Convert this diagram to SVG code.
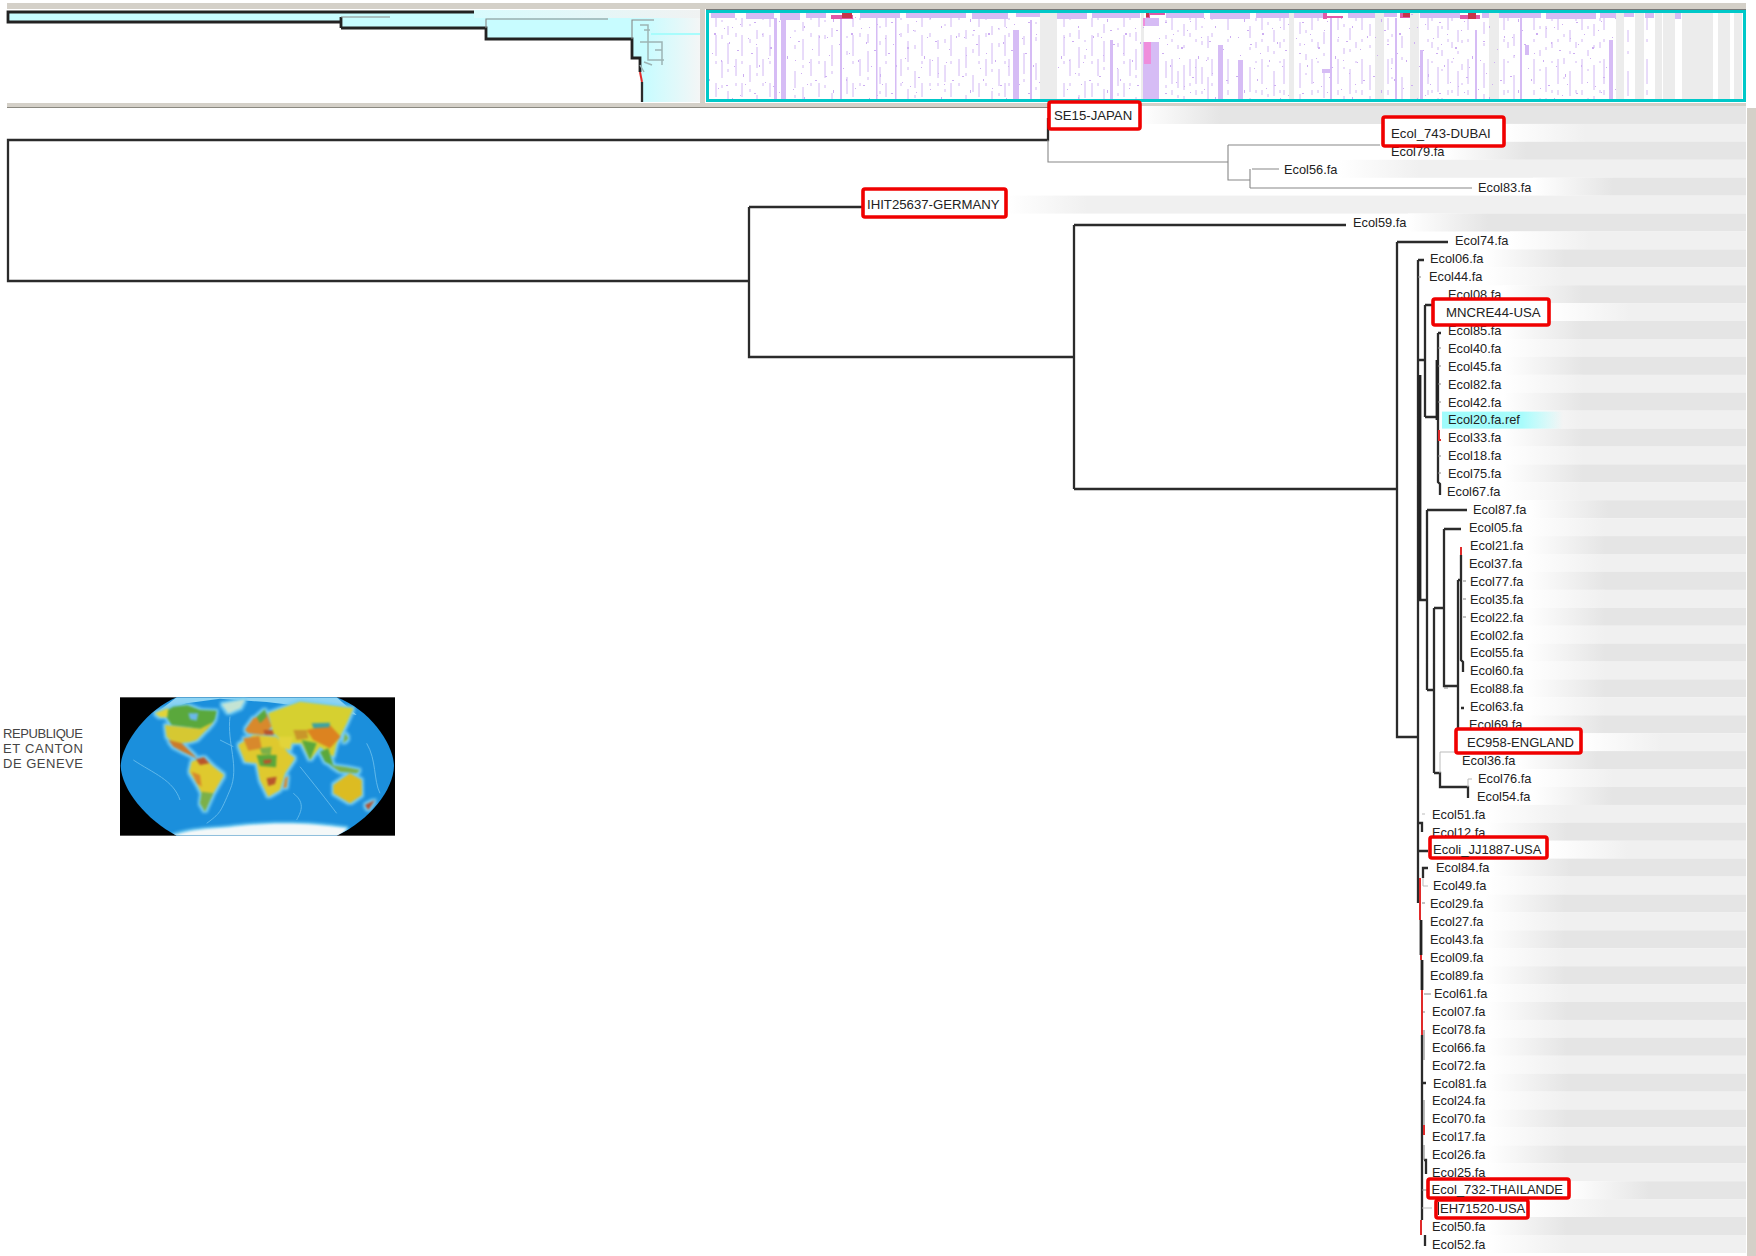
<svg xmlns="http://www.w3.org/2000/svg" width="1756" height="1256" viewBox="0 0 1756 1256">
<style>
text{font-family:"Liberation Sans",Arial,sans-serif;fill:#222;transform:translateY(.4px)}
.l{font-size:12.8px}
.b{font-size:13.2px}
.b2{font-size:13px}
.g{font-size:13px;fill:#444}
.box{fill:#fff;stroke:#f00000;stroke-width:3.6}
.e{fill:#e5e5e5}.f{fill:#f0f0f0}
.ge{fill:url(#ge)}.gf{fill:url(#gf)}
.k{fill:none;stroke:#2b2b2b;stroke-width:2.3}
.k3{fill:none;stroke:#222;stroke-width:2.8}
.t{fill:none;stroke:#888;stroke-width:1.1}
.p{fill:none;stroke:#bbb;stroke-width:1}
.r{fill:none;stroke:#e02a2a;stroke-width:2}
.h{fill:none;stroke:#d2b8f4;stroke-width:1}
.c{fill:#ececec}
.m{fill:#d6bcf5}
.n{fill:#e05aa8}
.land path{stroke-linejoin:round}
</style>
<defs>
<linearGradient id="ge"><stop offset="0" stop-color="#fff"/><stop offset="1" stop-color="#e5e5e5"/></linearGradient>
<linearGradient id="gf"><stop offset="0" stop-color="#fff"/><stop offset="1" stop-color="#f0f0f0"/></linearGradient>
<linearGradient id="gc"><stop offset="0" stop-color="#9ffcfc"/><stop offset=".66" stop-color="#a8fcfc"/><stop offset="1" stop-color="#a8fcfc" stop-opacity="0"/></linearGradient>
<linearGradient id="ov" gradientUnits="userSpaceOnUse" x1="8" y1="0" x2="700" y2="0"><stop offset="0" stop-color="#c8fcff"/><stop offset=".92" stop-color="#c8fcff"/><stop offset="1" stop-color="#f4f6f6"/></linearGradient>
<linearGradient id="ov2" gradientUnits="userSpaceOnUse" x1="474" y1="0" x2="700" y2="0"><stop offset="0" stop-color="#d8fbfd"/><stop offset="1" stop-color="#f0f2f2"/></linearGradient>
<pattern id="sp" patternUnits="userSpaceOnUse" width="137" height="71">
<path fill="#cdaef2" d="M3 5h2v1h-2zM11 19h1v3h-1zM17 44h2v1h-2zM24 8h1v2h-1zM29 33h2v2h-2zM36 60h1v2h-1zM41 14h2v1h-2zM47 27h1v1h-1zM52 50h2v1h-2zM58 3h1v3h-1zM63 38h1v1h-1zM69 22h2v1h-2zM74 65h1v2h-1zM80 11h1v1h-1zM85 47h2v2h-2zM91 30h1v1h-1zM96 6h2v1h-2zM102 56h1v3h-1zM108 18h1v1h-1zM113 41h2v1h-2zM119 26h1v2h-1zM124 62h1v1h-1zM130 9h2v1h-2zM134 36h1v2h-1zM7 55h1v1h-1zM14 30h2v1h-2zM21 68h1v1h-1zM33 17h1v1h-1zM44 42h1v2h-1zM55 24h1v1h-1zM66 53h2v1h-2zM77 34h1v1h-1zM88 15h1v1h-1zM99 67h1v1h-1zM105 37h1v1h-1zM116 2h1v1h-1zM127 49h1v1h-1zM5 37h1v1h-1zM27 53h1v1h-1zM49 66h1v1h-1zM71 44h1v1h-1zM94 21h1v1h-1zM110 60h1v1h-1zM122 13h1v1h-1zM39 28h1v1h-1zM60 13h1v1h-1zM83 58h1v1h-1z"/>
</pattern>
<filter id="bl" x="-5%" y="-5%" width="110%" height="110%" color-interpolation-filters="sRGB">
<feMorphology in="SourceAlpha" operator="dilate" radius="7" result="d"/>
<feGaussianBlur in="d" stdDeviation="5" result="db"/>
<feFlood flood-color="#74ccf2"/><feComposite in2="db" operator="in" result="halo"/>
<feGaussianBlur in="SourceGraphic" stdDeviation="2.6" result="s"/>
<feMerge><feMergeNode in="halo"/><feMergeNode in="s"/></feMerge>
</filter>
<filter id="b2"><feGaussianBlur stdDeviation="1.6"/></filter>
<clipPath id="mc"><path d="M530 52H1010C1110 90 1180 190 1182 258C1180 330 1110 420 1010 467H530C440 420 365 330 362 258C365 190 440 90 530 52Z"/></clipPath>
</defs>
<rect width="1756" height="1256" fill="#fff"/>

<g id="overview">
<rect x="7" y="3" width="1739" height="6" fill="#d4d0c8"/>
<rect x="7" y="103" width="1739" height="5" fill="#d4d0c8"/>
<rect x="7" y="107" width="1739" height="1" fill="#8a8880"/>
<rect x="700" y="9" width="5" height="94" fill="#d4d0c8"/>
<path fill="url(#ov2)" d="M474 10H700V20H474Z"/>
<path fill="url(#ov)" d="M8 12H474V18H700V102H642L640 72V58H632V39H486V28H341V22H8Z"/>
<path class="k3" d="M474 12H8V22H341M341 28H486V39H632V58H640V72M341 17V28"/>
<path class="t" stroke-width="1.5" d="M341 17H390M486 28V19H608M632 39V20H654"/>
<path class="r" d="M640 72L642 82"/>
<path class="k" d="M642 82V102"/>
<path fill="none" stroke="#9db4b4" stroke-width="1.5" d="M640 25H648V45M644 30H650M640 42H662V65M648 42V60H664M655 50H662M644 62L652 65M640 65L644 72"/>
<path fill="none" stroke="#a8fcfc" stroke-width="2" d="M651 34H700"/>
</g>

<g id="heatmap">
<rect x="707" y="11" width="1037" height="89" fill="#fff"/>
<rect x="1040" y="13" width="17" height="87" class="c"/><rect x="1141" y="13" width="3" height="87" class="c"/><rect x="1289" y="13" width="5" height="87" class="c"/><rect x="1375" y="13" width="9" height="87" class="c"/><rect x="1410" y="13" width="9" height="87" class="c"/><rect x="1489" y="13" width="10" height="87" class="c"/><rect x="1616" y="13" width="8" height="87" class="c"/><rect x="1635" y="13" width="9" height="87" class="c"/><rect x="1655" y="13" width="7" height="87" class="c"/><rect x="1663" y="13" width="12" height="87" class="c"/><rect x="1682" y="13" width="31" height="87" class="c"/><rect x="1718" y="13" width="12" height="87" class="c"/><rect x="1734" y="13" width="8" height="87" class="c"/>
<rect x="709" y="14" width="331" height="86" fill="url(#sp)"/><rect x="1057" y="14" width="232" height="86" fill="url(#sp)"/><rect x="1294" y="14" width="322" height="86" fill="url(#sp)"/>
<path class="m" d="M774 18h3v82h-3zM781 18h5v82h-5zM840 18h2v82h-2zM876 18h1.5v82h-1.5zM895 18h1.5v82h-1.5zM1013 30h6v70h-6zM1030 20h2v80h-2zM1110 40h3v60h-3zM1218 45h5v55h-5zM1238 60h5v40h-5zM1330 18h2v82h-2zM1395 18h2v82h-2zM1420 50h3v50h-3zM1475 30h2v70h-2zM1520 18h2v82h-2zM1609 40h4v60h-4zM1525 45h4v10h-4zM1322 69h8v4h-8z"/>
<path class="h" stroke-dasharray="9 8 21 5 3 19 14 11" d="M716 18V100M728 26V100M742 18V100M757 30V100M770 18V100M803 22V100M819 18V100M832 28V100M853 18V100M868 34V100M886 18V100M908 24V100M922 18V100M938 40V100M951 18V100M966 30V100M979 18V100M992 26V100M1005 18V100M1024 36V100M1064 18V100M1079 30V100M1092 18V100M1104 24V100M1124 18V100M1136 32V100"/>
<path class="h" stroke-dasharray="2 13 4 22 17 7 3 16" d="M722 20V100M736 18V100M750 24V100M763 18V100M795 30V100M811 18V100M825 20V100M847 36V100M860 18V100M880 26V100M901 18V100M915 30V100M930 18V100M945 24V100M959 18V100M973 34V100M986 18V100M999 28V100M1009 18V100M1036 22V100M1070 18V100M1085 40V100M1098 18V100M1118 28V100M1130 18V100M1166 20V100M1178 30V100M1190 18V100M1202 26V100M1212 18V100"/>
<path class="h" stroke-dasharray="12 9 3 17 25 6 5 14" d="M1172 18V100M1184 24V100M1196 18V100M1208 36V100M1228 18V100M1250 26V100M1262 18V100M1274 30V100M1284 18V100M1300 22V100M1312 18V100M1324 32V100M1338 18V100M1350 28V100M1362 18V100M1370 24V100M1388 18V100M1402 36V100M1428 18V100M1438 26V100M1448 18V100M1458 30V100M1468 18V100M1484 22V100M1504 18V100M1514 34V100M1534 18V100M1546 26V100M1558 18V100M1570 30V100M1582 18V100M1594 24V100M1604 18V100M1628 30V100M1647 18V100"/>
<path class="h" stroke-dasharray="3 21 6 13 2 27" d="M1256 18V100M1268 22V100M1280 18V100M1306 30V100M1318 18V100M1344 24V100M1356 18V100M1392 34V100M1432 18V100M1442 26V100M1452 18V100M1462 40V100M1508 18V100M1540 26V100M1552 18V100M1564 34V100M1576 18V100M1588 26V100M1600 18V100"/>
<path class="m" d="M711 13h24v5h-24zM746 13h28v6h-28zM780 13h20v7h-20zM806 13h20v5h-20zM860 13h40v5h-40zM906 13h60v5h-60zM972 13h36v6h-36zM1016 13h24v4h-24zM1057 13h30v6h-30zM1092 13h48v5h-48zM1166 13h38v5h-38zM1210 13h40v6h-40zM1256 13h33v5h-33zM1294 13h30v5h-30zM1348 13h27v5h-27zM1384 13h13v4h-13zM1420 13h40v5h-40zM1482 13h7v5h-7zM1499 13h42v5h-42zM1546 13h50v6h-50zM1600 13h16v5h-16zM1624 13h10v4h-10zM1645 13h9v5h-9zM1675 13h6v6h-6z"/>
<path class="m" d="M1143 18h16v8h-16zM1143 42h16v58h-16z"/>
<path d="M1144 42h7v22h-7z" fill="#ef8edc"/><path d="M1143 18h2v8h-2z" fill="#ef8edc"/>
<path class="n" d="M831 15h22v4h-22zM1146 13h4v5h-4zM1150 13h15v2h-15zM1323 13h4v6h-4zM1327 16h16v2h-16zM1400 13h10v5h-10zM1460 15h20v4h-20z"/>
<path fill="#c8344a" d="M842 13h10v5h-10zM1146 13h3v4h-3zM1403 13h7v4h-7zM1468 13h8v6h-8z"/>
<rect x="706" y="9" width="1040" height="1.4" fill="#777"/>
<rect x="707.5" y="11.5" width="1037" height="89" fill="none" stroke="#00c8c8" stroke-width="3"/>
</g>

<rect id="side" x="1747" y="108" width="9" height="1148" fill="#d4d0c8"/>

<g id="rows">
<rect x="1140" y="106" width="80" height="18" class="ge"/><rect x="1220" y="106" width="526" height="18" class="e"/>
<rect x="1505" y="123.9" width="80" height="18" class="gf"/><rect x="1585" y="123.9" width="161" height="18" class="f"/>
<rect x="1446" y="141.8" width="80" height="18" class="ge"/><rect x="1526" y="141.8" width="220" height="18" class="e"/>
<rect x="1339" y="159.8" width="80" height="18" class="gf"/><rect x="1419" y="159.8" width="327" height="18" class="f"/>
<rect x="1533" y="177.7" width="80" height="18" class="ge"/><rect x="1613" y="177.7" width="133" height="18" class="e"/>
<rect x="1007" y="195.6" width="80" height="18" class="gf"/><rect x="1087" y="195.6" width="659" height="18" class="f"/>
<rect x="1408" y="213.5" width="80" height="18" class="ge"/><rect x="1488" y="213.5" width="258" height="18" class="e"/>
<rect x="1510" y="231.4" width="80" height="18" class="gf"/><rect x="1590" y="231.4" width="156" height="18" class="f"/>
<rect x="1485" y="249.4" width="80" height="18" class="ge"/><rect x="1565" y="249.4" width="181" height="18" class="e"/>
<rect x="1484" y="267.3" width="80" height="18" class="gf"/><rect x="1564" y="267.3" width="182" height="18" class="f"/>
<rect x="1503" y="285.2" width="80" height="18" class="ge"/><rect x="1583" y="285.2" width="163" height="18" class="e"/>
<rect x="1550" y="303.1" width="80" height="18" class="gf"/><rect x="1630" y="303.1" width="116" height="18" class="f"/>
<rect x="1503" y="321" width="80" height="18" class="ge"/><rect x="1583" y="321" width="163" height="18" class="e"/>
<rect x="1503" y="339" width="80" height="18" class="gf"/><rect x="1583" y="339" width="163" height="18" class="f"/>
<rect x="1503" y="356.9" width="80" height="18" class="ge"/><rect x="1583" y="356.9" width="163" height="18" class="e"/>
<rect x="1503" y="374.8" width="80" height="18" class="gf"/><rect x="1583" y="374.8" width="163" height="18" class="f"/>
<rect x="1503" y="392.7" width="80" height="18" class="ge"/><rect x="1583" y="392.7" width="163" height="18" class="e"/>
<rect x="1503" y="410.6" width="80" height="18" class="gf"/><rect x="1583" y="410.6" width="163" height="18" class="f"/>
<rect x="1503" y="428.6" width="80" height="18" class="ge"/><rect x="1583" y="428.6" width="163" height="18" class="e"/>
<rect x="1503" y="446.5" width="80" height="18" class="gf"/><rect x="1583" y="446.5" width="163" height="18" class="f"/>
<rect x="1503" y="464.4" width="80" height="18" class="ge"/><rect x="1583" y="464.4" width="163" height="18" class="e"/>
<rect x="1502" y="482.3" width="80" height="18" class="gf"/><rect x="1582" y="482.3" width="164" height="18" class="f"/>
<rect x="1528" y="500.2" width="80" height="18" class="ge"/><rect x="1608" y="500.2" width="138" height="18" class="e"/>
<rect x="1524" y="518.2" width="80" height="18" class="gf"/><rect x="1604" y="518.2" width="142" height="18" class="f"/>
<rect x="1525" y="536.1" width="80" height="18" class="ge"/><rect x="1605" y="536.1" width="141" height="18" class="e"/>
<rect x="1524" y="554" width="80" height="18" class="gf"/><rect x="1604" y="554" width="142" height="18" class="f"/>
<rect x="1525" y="571.9" width="80" height="18" class="ge"/><rect x="1605" y="571.9" width="141" height="18" class="e"/>
<rect x="1525" y="589.8" width="80" height="18" class="gf"/><rect x="1605" y="589.8" width="141" height="18" class="f"/>
<rect x="1525" y="607.8" width="80" height="18" class="ge"/><rect x="1605" y="607.8" width="141" height="18" class="e"/>
<rect x="1525" y="625.7" width="80" height="18" class="gf"/><rect x="1605" y="625.7" width="141" height="18" class="f"/>
<rect x="1525" y="643.6" width="80" height="18" class="ge"/><rect x="1605" y="643.6" width="141" height="18" class="e"/>
<rect x="1525" y="661.5" width="80" height="18" class="gf"/><rect x="1605" y="661.5" width="141" height="18" class="f"/>
<rect x="1525" y="679.4" width="80" height="18" class="ge"/><rect x="1605" y="679.4" width="141" height="18" class="e"/>
<rect x="1525" y="697.4" width="80" height="18" class="gf"/><rect x="1605" y="697.4" width="141" height="18" class="f"/>
<rect x="1524" y="715.3" width="80" height="18" class="ge"/><rect x="1604" y="715.3" width="142" height="18" class="e"/>
<rect x="1582" y="733.2" width="80" height="18" class="gf"/><rect x="1662" y="733.2" width="84" height="18" class="f"/>
<rect x="1517" y="751.1" width="80" height="18" class="ge"/><rect x="1597" y="751.1" width="149" height="18" class="e"/>
<rect x="1533" y="769" width="80" height="18" class="gf"/><rect x="1613" y="769" width="133" height="18" class="f"/>
<rect x="1532" y="787" width="80" height="18" class="ge"/><rect x="1612" y="787" width="134" height="18" class="e"/>
<rect x="1487" y="804.9" width="80" height="18" class="gf"/><rect x="1567" y="804.9" width="179" height="18" class="f"/>
<rect x="1487" y="822.8" width="80" height="18" class="ge"/><rect x="1567" y="822.8" width="179" height="18" class="e"/>
<rect x="1548" y="840.7" width="80" height="18" class="gf"/><rect x="1628" y="840.7" width="118" height="18" class="f"/>
<rect x="1491" y="858.6" width="80" height="18" class="ge"/><rect x="1571" y="858.6" width="175" height="18" class="e"/>
<rect x="1488" y="876.6" width="80" height="18" class="gf"/><rect x="1568" y="876.6" width="178" height="18" class="f"/>
<rect x="1485" y="894.5" width="80" height="18" class="ge"/><rect x="1565" y="894.5" width="181" height="18" class="e"/>
<rect x="1485" y="912.4" width="80" height="18" class="gf"/><rect x="1565" y="912.4" width="181" height="18" class="f"/>
<rect x="1485" y="930.3" width="80" height="18" class="ge"/><rect x="1565" y="930.3" width="181" height="18" class="e"/>
<rect x="1485" y="948.2" width="80" height="18" class="gf"/><rect x="1565" y="948.2" width="181" height="18" class="f"/>
<rect x="1485" y="966.2" width="80" height="18" class="ge"/><rect x="1565" y="966.2" width="181" height="18" class="e"/>
<rect x="1489" y="984.1" width="80" height="18" class="gf"/><rect x="1569" y="984.1" width="177" height="18" class="f"/>
<rect x="1487" y="1002" width="80" height="18" class="ge"/><rect x="1567" y="1002" width="179" height="18" class="e"/>
<rect x="1487" y="1019.9" width="80" height="18" class="gf"/><rect x="1567" y="1019.9" width="179" height="18" class="f"/>
<rect x="1487" y="1037.8" width="80" height="18" class="ge"/><rect x="1567" y="1037.8" width="179" height="18" class="e"/>
<rect x="1487" y="1055.8" width="80" height="18" class="gf"/><rect x="1567" y="1055.8" width="179" height="18" class="f"/>
<rect x="1488" y="1073.7" width="80" height="18" class="ge"/><rect x="1568" y="1073.7" width="178" height="18" class="e"/>
<rect x="1487" y="1091.6" width="80" height="18" class="gf"/><rect x="1567" y="1091.6" width="179" height="18" class="f"/>
<rect x="1487" y="1109.5" width="80" height="18" class="ge"/><rect x="1567" y="1109.5" width="179" height="18" class="e"/>
<rect x="1487" y="1127.4" width="80" height="18" class="gf"/><rect x="1567" y="1127.4" width="179" height="18" class="f"/>
<rect x="1487" y="1145.4" width="80" height="18" class="ge"/><rect x="1567" y="1145.4" width="179" height="18" class="e"/>
<rect x="1487" y="1163.3" width="80" height="18" class="gf"/><rect x="1567" y="1163.3" width="179" height="18" class="f"/>
<rect x="1569" y="1181.2" width="80" height="18" class="ge"/><rect x="1649" y="1181.2" width="97" height="18" class="e"/>
<rect x="1528" y="1199.1" width="80" height="18" class="gf"/><rect x="1608" y="1199.1" width="138" height="18" class="f"/>
<rect x="1487" y="1217" width="80" height="18" class="ge"/><rect x="1567" y="1217" width="179" height="18" class="e"/>
<rect x="1487" y="1235" width="80" height="18" class="gf"/><rect x="1567" y="1235" width="179" height="18" class="f"/>
<rect x="1442" y="411.6" width="121" height="17" fill="url(#gc)"/>
</g>

<g id="connectors">
<path class="k" d="M1048 118V140H8V281H749M749 207V357H1074M749 207H864M1074 225V489M1074 225H1346M1074 489H1397M1397 242V737H1418M1397 242H1448"/>
<path class="t" d="M1048 140V162H1228M1228 145V180H1250M1228 145H1380M1250 169V188M1252 169H1279M1250 188H1472"/>
<path class="k" d="M1418 260V903M1418 260H1424M1418 360H1425V417M1425 305V360M1425 305H1434M1425 417H1438M1438 333V482L1440 484V495M1438 333H1441M1418 600H1427M1427 510V690M1427 510H1467M1427 690H1434M1434 608V773M1434 608H1444M1444 529V686H1458M1444 529H1461M1458 580V745M1458 580H1461M1461 555V660L1463 662V672M1461 708H1464M1434 773H1440V787H1468V798M1418 823H1422V832M1418 851H1428M1423 878V868H1428"/>
<path class="k3" d="M1420 375V600M1437 360V420M1421 920V955M1422 960V990"/>
<path class="k" d="M1422 1035V1220M1425 1235V1246M1422 1083H1426M1424 1160H1426V1174"/>
<path class="t" d="M1418 277H1421M1438 348H1441M1438 366H1441M1438 384H1441M1438 402H1441M1438 456H1441M1438 473H1441M1434 312H1437V298M1444 688H1448M1463 581H1466M1463 599H1466M1463 617H1466M1422 903H1425M1424 994H1431M1422 1012H1425M1422 1190H1428M1424 1030V1060M1424 1100V1130M1424 1145V1160"/>
<path class="p" d="M1440 773V752H1455M1468 787V779H1472M1422 814H1425M1423 878V886H1428M1422 1208H1432"/>
<path class="r" d="M1420 878V920M1421 955V960M1422 990V1035M1439 430V440H1441M1461 547V555M1424 1125V1135M1421 1220V1235"/>
</g>

<g id="leaf-Ecol79"><text class="l" x="1391" y="155.3">Ecol79.fa</text></g>
<g id="leaf-Ecol56"><text class="l" x="1284" y="173.3">Ecol56.fa</text></g>
<g id="leaf-Ecol83"><text class="l" x="1478" y="191.2">Ecol83.fa</text></g>
<g id="leaf-Ecol59"><text class="l" x="1353" y="227">Ecol59.fa</text></g>
<g id="leaf-Ecol74"><text class="l" x="1455" y="244.9">Ecol74.fa</text></g>
<g id="leaf-Ecol06"><text class="l" x="1430" y="262.9">Ecol06.fa</text></g>
<g id="leaf-Ecol44"><text class="l" x="1429" y="280.8">Ecol44.fa</text></g>
<g id="leaf-Ecol08"><text class="l" x="1448" y="298.7">Ecol08.fa</text></g>
<g id="leaf-Ecol85"><text class="l" x="1448" y="334.5">Ecol85.fa</text></g>
<g id="leaf-Ecol40"><text class="l" x="1448" y="352.5">Ecol40.fa</text></g>
<g id="leaf-Ecol45"><text class="l" x="1448" y="370.4">Ecol45.fa</text></g>
<g id="leaf-Ecol82"><text class="l" x="1448" y="388.3">Ecol82.fa</text></g>
<g id="leaf-Ecol42"><text class="l" x="1448" y="406.2">Ecol42.fa</text></g>
<g id="leaf-Ecol20"><text class="l" x="1448" y="424.1">Ecol20.fa.ref</text></g>
<g id="leaf-Ecol33"><text class="l" x="1448" y="442.1">Ecol33.fa</text></g>
<g id="leaf-Ecol18"><text class="l" x="1448" y="460">Ecol18.fa</text></g>
<g id="leaf-Ecol75"><text class="l" x="1448" y="477.9">Ecol75.fa</text></g>
<g id="leaf-Ecol67"><text class="l" x="1447" y="495.8">Ecol67.fa</text></g>
<g id="leaf-Ecol87"><text class="l" x="1473" y="513.7">Ecol87.fa</text></g>
<g id="leaf-Ecol05"><text class="l" x="1469" y="531.7">Ecol05.fa</text></g>
<g id="leaf-Ecol21"><text class="l" x="1470" y="549.6">Ecol21.fa</text></g>
<g id="leaf-Ecol37"><text class="l" x="1469" y="567.5">Ecol37.fa</text></g>
<g id="leaf-Ecol77"><text class="l" x="1470" y="585.4">Ecol77.fa</text></g>
<g id="leaf-Ecol35"><text class="l" x="1470" y="603.3">Ecol35.fa</text></g>
<g id="leaf-Ecol22"><text class="l" x="1470" y="621.3">Ecol22.fa</text></g>
<g id="leaf-Ecol02"><text class="l" x="1470" y="639.2">Ecol02.fa</text></g>
<g id="leaf-Ecol55"><text class="l" x="1470" y="657.1">Ecol55.fa</text></g>
<g id="leaf-Ecol60"><text class="l" x="1470" y="675">Ecol60.fa</text></g>
<g id="leaf-Ecol88"><text class="l" x="1470" y="692.9">Ecol88.fa</text></g>
<g id="leaf-Ecol63"><text class="l" x="1470" y="710.9">Ecol63.fa</text></g>
<g id="leaf-Ecol69"><text class="l" x="1469" y="728.8">Ecol69.fa</text></g>
<g id="leaf-Ecol36"><text class="l" x="1462" y="764.6">Ecol36.fa</text></g>
<g id="leaf-Ecol76"><text class="l" x="1478" y="782.5">Ecol76.fa</text></g>
<g id="leaf-Ecol54"><text class="l" x="1477" y="800.5">Ecol54.fa</text></g>
<g id="leaf-Ecol51"><text class="l" x="1432" y="818.4">Ecol51.fa</text></g>
<g id="leaf-Ecol12"><text class="l" x="1432" y="836.3">Ecol12.fa</text></g>
<g id="leaf-Ecol84"><text class="l" x="1436" y="872.1">Ecol84.fa</text></g>
<g id="leaf-Ecol49"><text class="l" x="1433" y="890.1">Ecol49.fa</text></g>
<g id="leaf-Ecol29"><text class="l" x="1430" y="908">Ecol29.fa</text></g>
<g id="leaf-Ecol27"><text class="l" x="1430" y="925.9">Ecol27.fa</text></g>
<g id="leaf-Ecol43"><text class="l" x="1430" y="943.8">Ecol43.fa</text></g>
<g id="leaf-Ecol09"><text class="l" x="1430" y="961.7">Ecol09.fa</text></g>
<g id="leaf-Ecol89"><text class="l" x="1430" y="979.7">Ecol89.fa</text></g>
<g id="leaf-Ecol61"><text class="l" x="1434" y="997.6">Ecol61.fa</text></g>
<g id="leaf-Ecol07"><text class="l" x="1432" y="1015.5">Ecol07.fa</text></g>
<g id="leaf-Ecol78"><text class="l" x="1432" y="1033.4">Ecol78.fa</text></g>
<g id="leaf-Ecol66"><text class="l" x="1432" y="1051.3">Ecol66.fa</text></g>
<g id="leaf-Ecol72"><text class="l" x="1432" y="1069.3">Ecol72.fa</text></g>
<g id="leaf-Ecol81"><text class="l" x="1433" y="1087.2">Ecol81.fa</text></g>
<g id="leaf-Ecol24"><text class="l" x="1432" y="1105.1">Ecol24.fa</text></g>
<g id="leaf-Ecol70"><text class="l" x="1432" y="1123">Ecol70.fa</text></g>
<g id="leaf-Ecol17"><text class="l" x="1432" y="1140.9">Ecol17.fa</text></g>
<g id="leaf-Ecol26"><text class="l" x="1432" y="1158.9">Ecol26.fa</text></g>
<g id="leaf-Ecol25"><text class="l" x="1432" y="1176.8">Ecol25.fa</text></g>
<g id="leaf-Ecol50"><text class="l" x="1432" y="1230.5">Ecol50.fa</text></g>
<g id="leaf-Ecol52"><text class="l" x="1432" y="1248.5">Ecol52.fa</text></g>

<g id="node-SE15"><rect class="box" x="1049" y="102" width="91" height="27" rx="2"/><text class="b" x="1054" y="119.5">SE15-JAPAN</text></g>
<g id="node-DUBAI"><rect class="box" x="1383" y="117" width="121" height="29" rx="2"/><text class="b" x="1391" y="137.4">Ecol_743-DUBAI</text></g>
<g id="node-GERMANY"><rect class="box" x="863" y="189" width="143" height="28" rx="2"/><text class="b" x="867" y="209.1">IHIT25637-GERMANY</text></g>
<g id="node-MNCRE44"><rect class="box" x="1433" y="299" width="116" height="26" rx="2"/><text class="b" x="1446" y="316.6">MNCRE44-USA</text></g>
<g id="node-EC958"><rect class="box" x="1456" y="729" width="125" height="24" rx="2"/><text class="b2" x="1467" y="746.3">EC958-ENGLAND</text></g>
<g id="node-JJ1887"><rect class="box" x="1430" y="837" width="117" height="21" rx="2"/><text class="b2" x="1433" y="853.4">Ecoli_JJ1887-USA</text></g>
<g id="node-THAILANDE"><rect class="box" x="1428" y="1179" width="141" height="19" rx="2"/><text class="b2" x="1431.5" y="1193.8">Ecol_732-THAILANDE</text></g>
<g id="node-EH71520"><rect class="box" x="1436" y="1200" width="92" height="18" rx="2"/><path stroke="#222" d="M1438.5 1202V1215"/><text class="b2" x="1440" y="1212.2">EH71520-USA</text></g>

<g id="logo">
<text class="g" x="3" y="738" textLength="80" lengthAdjust="spacing">REPUBLIQUE</text>
<text class="g" x="3" y="753" textLength="80" lengthAdjust="spacing">ET CANTON</text>
<text class="g" x="3" y="768" textLength="80" lengthAdjust="spacing">DE GENEVE</text>
</g>

<g id="map" transform="translate(0 680) scale(.33333)">
<rect x="360" y="52" width="825" height="415" fill="#000"/>
<path d="M530 52H1010C1110 90 1180 190 1182 258C1180 330 1110 420 1010 467H530C440 420 365 330 362 258C365 190 440 90 530 52Z" fill="#1b8fdc"/>
<g clip-path="url(#mc)">
<path filter="url(#b2)" fill="none" stroke="#5fb8ea" stroke-width="3" d="M690 110C680 190 720 260 690 330S660 400 620 430M400 240C460 280 520 300 540 360M900 260C940 310 980 360 1010 400M1100 190C1130 240 1120 300 1140 340M880 340C920 370 900 400 890 420M660 180L700 200"/>
<path fill="#8ed4f4" d="M530 52H1010L1070 105L1000 90L800 66L660 56L560 70L470 98Z" filter="url(#b2)"/>
<g class="land" filter="url(#bl)">
<path fill="#c4e4d4" d="M665 72L735 58L722 84L685 100Z"/>
<path fill="#5aa83c" d="M500 92L520 80L562 76L600 90L650 92L645 118L620 150L570 142L515 135L500 112Z"/>
<path fill="#e2d43a" d="M465 100L505 84L502 112L480 112Z"/>
<path fill="#d6c832" d="M495 135L600 146L642 125L590 180L570 186L525 192L500 170Z"/>
<path fill="#6ab8e8" d="M565 100L595 100L590 122L570 118Z"/>
<path fill="#cc7a2a" d="M505 180L545 190L582 226L592 236L550 216L520 200Z"/>
<path fill="#dfc92e" d="M575 245L610 232L640 260L672 285L640 340L605 340L590 310L568 275Z"/>
<path fill="#b9552c" d="M588 238L612 232L628 250L600 255Z"/>
<path fill="#d8892c" d="M575 275L600 285L605 320L590 310Z"/>
<path fill="#7cb048" d="M605 335L640 340L615 395L600 370Z"/>
<path fill="#dfc92e" d="M715 195L760 165L830 170L865 220L885 235L855 280L840 330L805 350L780 300L770 250L735 245Z"/>
<path fill="#d8892c" d="M730 175L778 168L785 205L745 212Z"/>
<path fill="#5aa83c" d="M770 225L830 225L828 262L780 258Z"/>
<path fill="#b9552c" d="M790 240L815 238L812 250L792 252ZM800 295L830 290L825 312L805 318Z"/>
<path fill="#7cb048" d="M780 205L815 200L812 225L785 222Z"/>
<path fill="#d8892c" d="M855 295L864 288L860 322L850 325Z"/>
<path fill="#d8892c" d="M735 150L760 115L800 100L815 140L790 165L745 160Z"/>
<path fill="#5aa83c" d="M770 110L795 88L800 110L780 130Z"/>
<path fill="#b9552c" d="M790 150L830 150L820 165L795 165Z"/>
<path fill="#d6d030" d="M805 100L900 65L1060 85L1040 130L1010 190L1000 230L960 200L930 240L905 190L860 190L820 160Z"/>
<path fill="#dc8320" d="M920 150L990 135L1022 170L990 205L940 180Z"/>
<path fill="#3fa3a0" d="M935 130L990 128L988 142L940 145Z"/>
<path fill="#c9962a" d="M880 150L920 150L925 175L890 180Z"/>
<path fill="#5aa83c" d="M905 180L950 190L930 240Z"/>
<path fill="#e2d43a" d="M835 170L880 170L870 210L840 200Z"/>
<path fill="#5aa83c" d="M960 215L985 205L1000 258L975 245Z"/>
<path fill="#7cb048" d="M990 255L1040 262L1080 270L1070 280L1020 275ZM1035 160L1045 175L1030 190Z"/>
<path fill="#dcbc22" d="M1000 315L1050 280L1085 300L1086 345L1050 370L1000 340Z"/>
<path fill="#b05030" d="M1095 375L1125 360L1105 390Z"/>
<path fill="#f4f8f8" d="M510 470C600 440 650 448 700 440C800 430 900 425 1040 445L1020 470Z"/>
</g>
</g>
</g>
</svg>
